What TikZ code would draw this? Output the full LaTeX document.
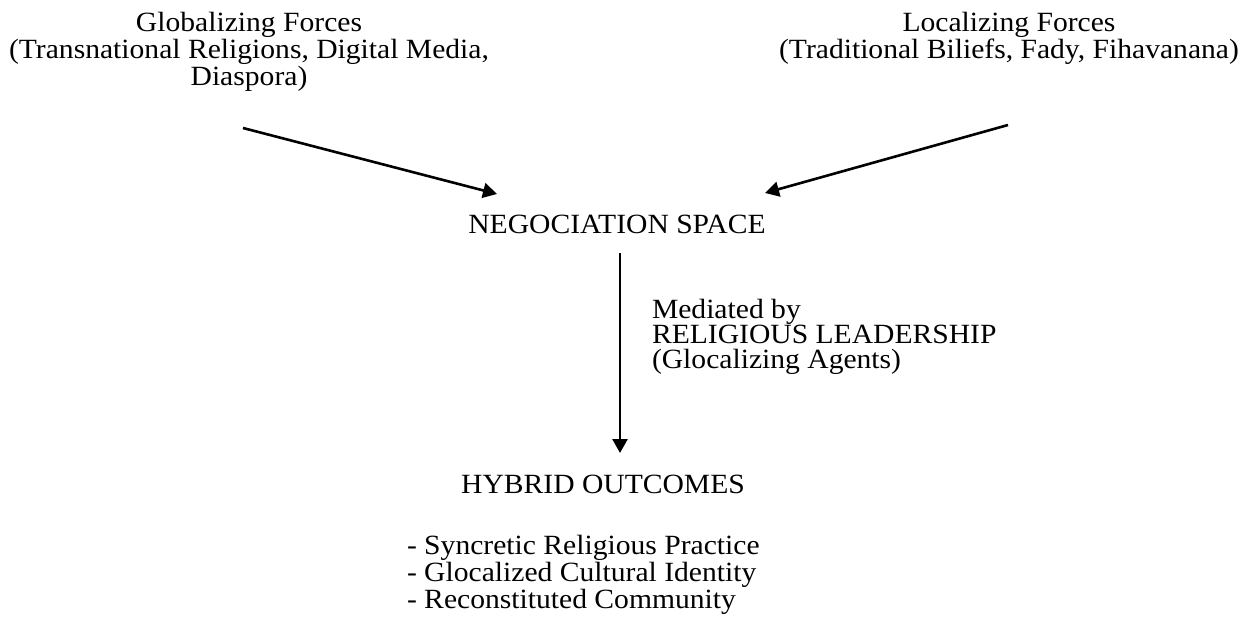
\documentclass[tikz,border=0pt]{standalone}
\usepackage{fontspec}
\setmainfont{Liberation Serif}
\usetikzlibrary{arrows.meta,calc}

\tikzset{
  label text/.style={inner sep=0pt, outer sep=0pt, yscale=0.94,
                     font=\fontsize{14.8}{12}\selectfont},
  flow/.style={line width=1.3pt, -{Triangle[length=7pt,width=7.5pt]}}
}

\begin{document}
% one unit = one pixel, y axis pointing down
\begin{tikzpicture}[x=0.5pt, y=-0.5pt]
  \useasboundingbox (0,0) rectangle (1246,626);

  % the two opposing forces
  \node[label text, align=center, anchor=north] (glob) at (249,12)
    {Globalizing Forces\\(Transnational Religions, Digital Media,\\Diaspora)};
  \node[label text, align=center, anchor=north] (loc) at (1009,12)
    {Localizing Forces\\(Traditional Biliefs, Fady, Fihavanana)};

  % where they meet
  \node[label text, anchor=base] (nego) at (617,233) {NEGOCIATION SPACE};

  % mediation
  \node[label text, align=left, anchor=north west,
        font=\fontsize{14.8}{13.3}\selectfont] (med) at (652,299)
    {Mediated by\\RELIGIOUS LEADERSHIP\\(Glocalizing Agents)};

  % results
  \node[label text, anchor=base] (hyb) at (603,493) {HYBRID OUTCOMES};
  \node[label text, align=left, anchor=north west,
        font=\fontsize{14.8}{12.4}\selectfont] (list) at (407,535)
    {- Syncretic Religious Practice\\- Glocalized Cultural Identity\\- Reconstituted Community};

  % connectors
  \draw[flow] ([shift={(-6,116)}]glob.north) -- ([shift={(-120,-39)}]nego.base);
  \draw[flow] ([shift={(-1,113)}]loc.north) -- ([shift={(148,-40)}]nego.base);
  \coordinate (vtop) at ([shift={(3,20)}]nego.base);
  \draw[flow] (vtop) -- ($(vtop |- hyb.base)+(0,-40)$);
\end{tikzpicture}
\end{document}
